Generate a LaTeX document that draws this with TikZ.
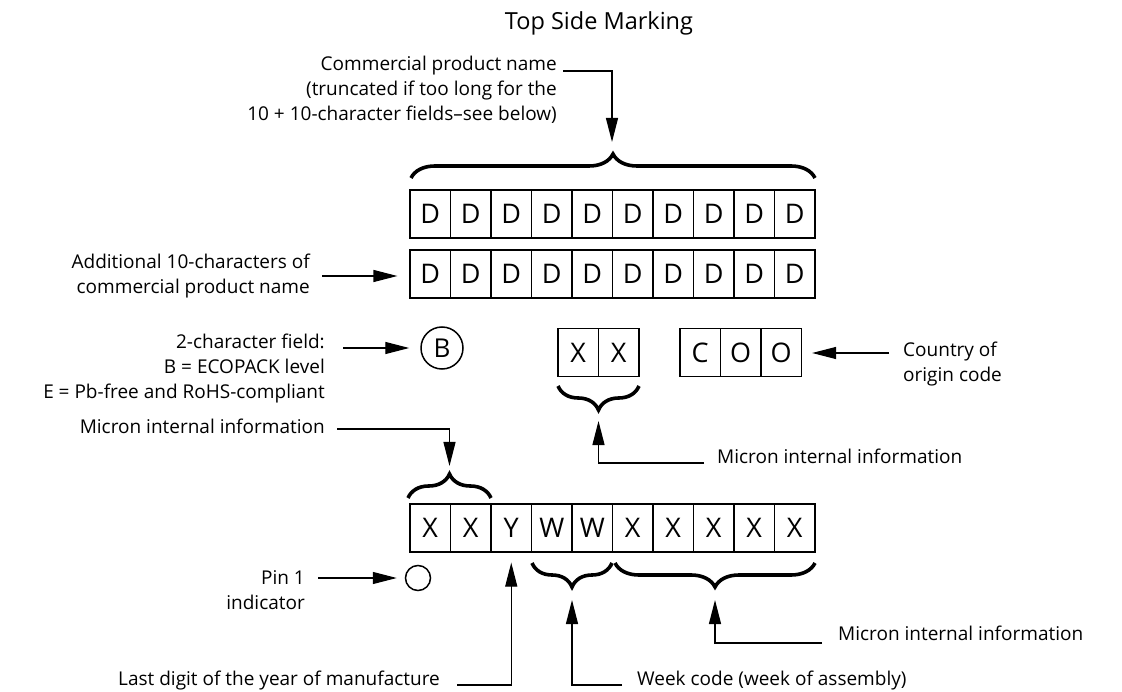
\documentclass[tikz,border=0pt]{standalone}
\usepackage{fontspec}
\setmainfont{Open Sans}
\usetikzlibrary{arrows.meta,decorations.pathreplacing,positioning}

\tikzset{
    cell/.style={draw, line width=1.2pt, minimum width=40.5pt, minimum height=48pt, inner sep=0pt, font=\fontsize{27}{30}\selectfont},
    lbl/.style={inner sep=0pt, font=\fontsize{19}{25}\selectfont},
    arr/.style={line width=1.2pt, -{Triangle[length=24pt,width=12pt]}},
    braceup/.style={decorate, decoration={brace, amplitude=24pt}, line width=3.6pt},
    bracedown/.style={decorate, decoration={brace, mirror, amplitude=24pt}, line width=3.6pt},
}

\begin{document}
\begin{tikzpicture}[x=1pt,y=-1pt]
                \useasboundingbox (0,0) rectangle (1122,692);
                % Title
                \node[lbl, font=\fontsize{23.5}{26}\selectfont, anchor=base] (title) at (599,30) {Top Side Marking};
                % Product name fields
                \foreach \i in {0,...,9} {
                    \node[cell] (dA\i) at (430.25+40.5*\i,214) {D};
                    \node[cell] (dB\i) at (430.25+40.5*\i,274) {D};
                }
                % Bottom row
                \foreach \lab [count=\i from 0] in {X,X,Y,W,W,X,X,X,X,X}
                    \node[cell] (c\i) at (430.25+40.5*\i,528) {\lab};
                % Middle fields
                \foreach \lab [count=\i from 0] in {X,X}
                    \node[cell] (m\i) at (578.25+40.5*\i,352.5) {\lab};
                \foreach \lab [count=\i from 0] in {C,O,O}
                    \node[cell] (co\i) at (700.25+40.5*\i,352.5) {\lab};
                % Circles
                \node[draw, circle, line width=1.5pt, minimum size=42pt, inner sep=0pt, font=\fontsize{26}{30}\selectfont] (eco) at (442,348) {B};
                \node[draw, circle, line width=1.5pt, minimum size=25pt, inner sep=0pt] (pin) at (418,578) {};

                % Braces
                \draw[braceup] (411,178) -- (815,178);
                \draw[braceup] (408,498) -- (491,498);
                \draw[bracedown] (558,386) -- (639,386);
                \draw[bracedown] (532,563) -- (612,563);
                \draw[bracedown] (615,563) -- (815,563);

                % Labels
                \node[lbl, align=right, anchor=east] (lblName) at (557,90) {Commercial product name\\(truncated if too long for the\\10 + 10-character fields--see below)};
                \node[lbl, align=right, anchor=east] (lblMore) at (310,276) {Additional 10-characters of\\commercial product name};
                \node[lbl, align=right, anchor=east] (lblEco) at (325,369) {2-character field:\\B = ECOPACK level\\E = Pb-free and RoHS-compliant};
                \node[lbl, anchor=base east] (lblInfoA) at (325,434) {Micron internal information};
                \node[lbl, anchor=base west] (lblInfoB) at (717,463) {Micron internal information};
                \node[lbl, align=left, anchor=west] (lblCoo) at (903,364) {Country of\\origin code};
                \node[lbl, align=right, anchor=east] (lblPin) at (305,590) {Pin 1\\indicator};
                \node[lbl, anchor=base east] (lblYear) at (440,685) {Last digit of the year of manufacture};
                \node[lbl, anchor=base west] (lblWeek) at (637,685) {Week code (week of assembly)};
                \node[lbl, anchor=base west] (lblInfoC) at (838,640) {Micron internal information};

                % Leader ends
                \coordinate (sName) at (563,71);
                \coordinate (tName) at (612,142);
                \coordinate (sMore) at (322,276);
                \coordinate (sEco) at (343,348);
                \coordinate (sInfoA) at (337,429);
                \coordinate (tInfoA) at (449.5,466);
                \coordinate (sInfoB) at (704,463);
                \coordinate (tInfoB) at (598.5,421);
                \coordinate (sCoo) at (889,353);
                \coordinate (sPin) at (318,578);
                \coordinate (sYear) at (457,685);
                \coordinate (sWeek) at (622,685);
                \coordinate (tWeek) at (572,600);
                \coordinate (sInfoC) at (822,643);
                \coordinate (tInfoC) at (715,600);

                % Arrows
                \draw[arr] (sName) -| (tName);
                \draw[arr, shorten >=12pt] (sMore) -- (sMore -| dB0.west);
                \draw[arr, shorten >=11pt] (sEco) -- (eco.west);
                \draw[arr] (sInfoA) -| (tInfoA);
                \draw[arr] (sInfoB) -| (tInfoB);
                \draw[arr, shorten >=10pt] (sCoo) -- (sCoo -| co2.east);
                \draw[arr, shorten >=8pt] (sPin) -- (pin.west);
                \draw[arr, shorten >=10pt] (sYear) -| (c2.south);
                \draw[arr] (sWeek) -| (tWeek);
                \draw[arr] (sInfoC) -| (tInfoC);
\end{tikzpicture}
\end{document}
